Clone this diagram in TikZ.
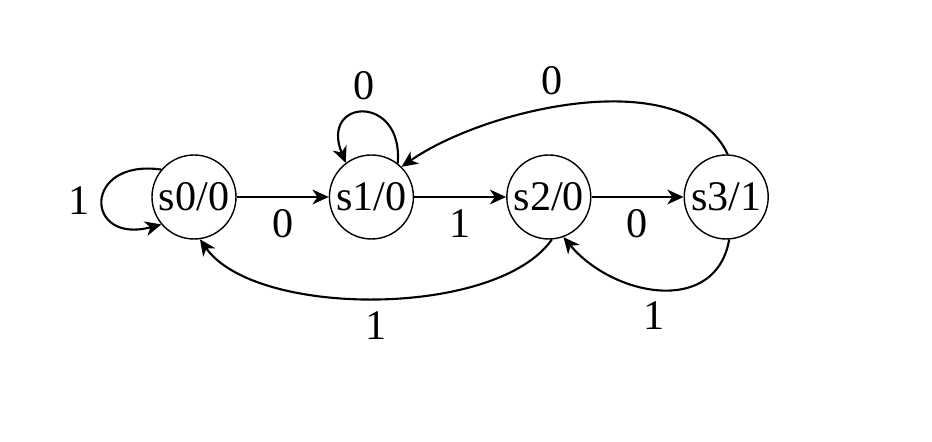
\documentclass[tikz,border=0pt]{standalone}
\usepackage{fontspec}
\setmainfont{Liberation Serif}
\usetikzlibrary{positioning, arrows.meta}

\begin{document}
\begin{tikzpicture}[
        font=\fontsize{12}{14}\selectfont,
        state/.style={draw, thin, circle, minimum size=0.84cm, inner sep=0pt},
        trans/.style={-{Stealth[length=4.6pt, width=4.2pt, inset=1.4pt]}, semithick},
        node distance=0.92cm
    ]
        \useasboundingbox (0, 0) rectangle (9.32, 4.42);

        \node[state] (s0) at (1.94, 2.45) {s0/0};
        \node[state, right=of s0] (s1) {s1/0};
        \node[state, right=of s1] (s2) {s2/0};
        \node[state, right=of s2] (s3) {s3/1};

        \draw[trans] (s0) -- (s1) node[midway, below] {0};
        \draw[trans] (s1) -- (s2) node[midway, below] {1};
        \draw[trans] (s2) -- (s3) node[midway, below] {0};

        \draw[trans] (s0.140) .. controls +(172:0.8) and +(195:0.8) .. (s0.220) node[midway, left] {1};
        \draw[trans] (s1.52) .. controls +(85:0.7) and +(112:0.7) .. (s1.127) node[midway, above] {0};

        \draw[trans] (s3.88) to[out=115, in=35, looseness=0.8] node[pos=0.57, above] {0} (s1.45);
        \draw[trans] (s2.274) to[out=235, in=-55, looseness=0.7] node[midway, below] {1} (s0.278);
        \draw[trans] (s3.274) to[out=260, in=-50, looseness=1.2] node[pos=0.53, below] {1} (s2.290);
    \end{tikzpicture}
\end{document}
